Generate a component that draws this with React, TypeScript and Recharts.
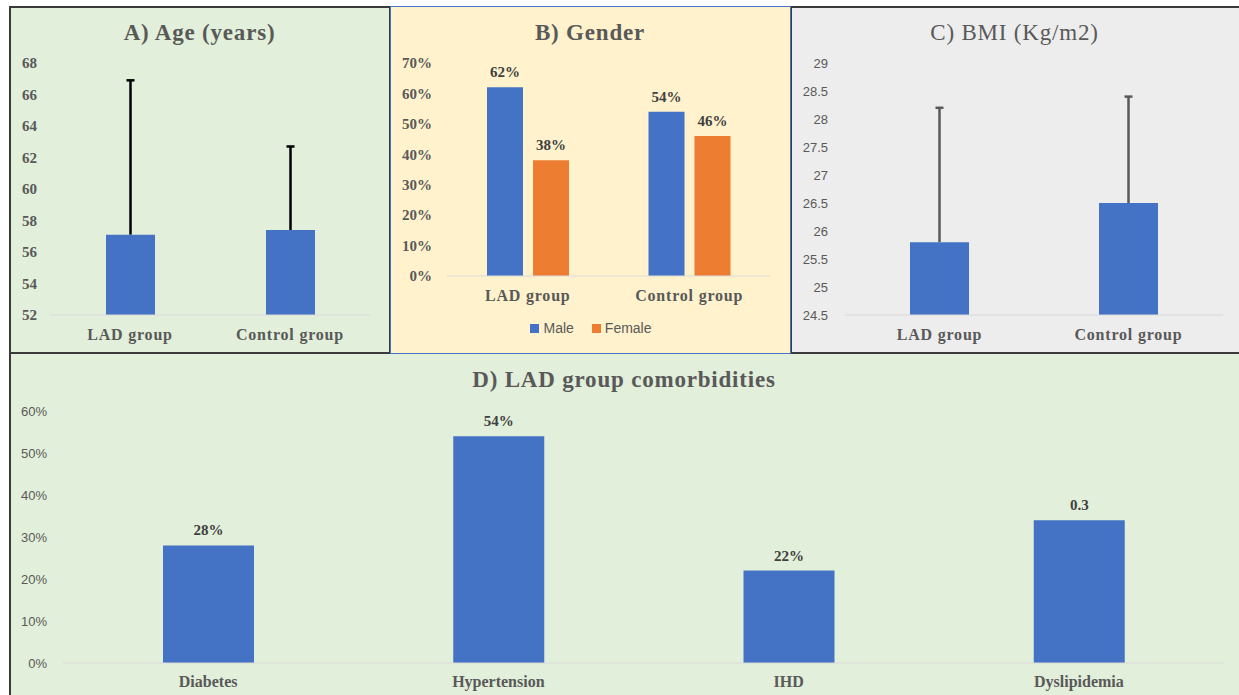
import React from 'react';
import { BarChart, Bar, XAxis, YAxis, LabelList, Legend } from 'recharts';

const SERIF = '"Liberation Serif", "Times New Roman", serif';
const SANS = '"Liberation Sans", Arial, sans-serif';
const BLUE = '#4472c4';
const ORANGE = '#ed7d31';
const GREY = '#595959';
const DARK = '#404040';
const BASE_LINE = '#d9d9d9';

// A) Age and C) BMI share the two groups
const groups = ['LAD group', 'Control group'];
const ageMean = [57.1, 57.4];
const ageSdPlus = [9.8, 5.3];
const ageTicks = [52, 54, 56, 58, 60, 62, 64, 66, 68];

// B) Gender
const genderSeries = ['Male', 'Female'];
const malePct = [0.62, 0.54];
const femalePct = [0.38, 0.46];
const genderTicks = [0, 0.1, 0.2, 0.3, 0.4, 0.5, 0.6, 0.7];

// C) BMI
const bmiMean = [25.8, 26.5];
const bmiSdPlus = [2.4, 1.9];
const bmiTicks = [24.5, 25, 25.5, 26, 26.5, 27, 27.5, 28, 28.5, 29];

// D) LAD group comorbidities
const comorbidities = ['Diabetes', 'Hypertension', 'IHD', 'Dyslipidemia'];
const comorbidityPct = [0.28, 0.54, 0.22, 0.34];
const comorbidityLabels = ['28%', '54%', '22%', '0.3'];
const comorbidityTicks = [0, 0.1, 0.2, 0.3, 0.4, 0.5, 0.6];

// plus-only error bars are drawn as range bars from mean to mean + sd
const ageData = groups.map((g, i) => ({ group: g, mean: ageMean[i], err: [ageMean[i], ageMean[i] + ageSdPlus[i]] }));
const bmiData = groups.map((g, i) => ({ group: g, mean: bmiMean[i], err: [bmiMean[i], bmiMean[i] + bmiSdPlus[i]] }));
const genderData = groups.map((g, i) => ({ group: g, Male: malePct[i], Female: femalePct[i] }));
const comorbidityData = comorbidities.map((c, i) => ({
  name: c,
  value: comorbidityPct[i],
  label: comorbidityLabels[i],
}));

const pct = (v: number) => `${Math.round(v * 100)}%`;

const CatTick = (props: any) => {
  const { x, y, payload, size, spacing } = props;
  return (
    <text
      x={x}
      y={y}
      dy="0.71em"
      textAnchor="middle"
      fill={GREY}
      fontFamily={SERIF}
      fontWeight={700}
      fontSize={size}
      style={{ letterSpacing: `${spacing}px` }}
    >
      {payload.value}
    </text>
  );
};

const whisker = (color: string) => (props: any) => {
  const { x, y, width, height } = props;
  const cx = x + width / 2;
  return (
    <g>
      <line x1={cx} x2={cx} y1={y} y2={y + height} stroke={color} strokeWidth={2.5} />
      <line x1={cx - 4} x2={cx + 4} y1={y} y2={y} stroke={color} strokeWidth={2.5} />
    </g>
  );
};

const labelStyle = { fill: DARK, fontFamily: SERIF, fontWeight: 700, fontSize: 15 };

const Panel = ({ style }: { style: React.CSSProperties }) => (
  <div style={{ position: 'absolute', boxSizing: 'border-box', ...style }} />
);

const Title = ({ text, left, width, top, bold }: any) => (
  <div
    style={{
      position: 'absolute',
      left,
      width,
      top,
      textAlign: 'center',
      fontFamily: SERIF,
      fontSize: 23,
      lineHeight: '23px',
      fontWeight: bold ? 700 : 400,
      color: GREY,
      letterSpacing: '0.8px',
      zIndex: 3,
    }}
  >
    {text}
  </div>
);

const GenderLegend = (props: any) => {
  // keep the series order (Male first), recharts sorts the payload by name
  const items = [...(props.payload || [])].sort(
    (a: any, b: any) => genderSeries.indexOf(a.value) - genderSeries.indexOf(b.value)
  );
  return (
    <div
      style={{
        display: 'flex',
        justifyContent: 'center',
        alignItems: 'center',
        height: 20,
        fontFamily: SANS,
        fontSize: 14,
        color: GREY,
      }}
    >
      {items.map((it: any, i: number) => (
        <span key={it.value} style={{ display: 'flex', alignItems: 'center', marginLeft: i ? 18 : 0 }}>
          <span style={{ width: 9, height: 9, background: it.color, marginRight: 4, display: 'inline-block' }} />
          {it.value}
        </span>
      ))}
    </div>
  );
};

export default function App() {
  return (
    <div
      style={{
        position: 'fixed',
        left: 0,
        top: 0,
        width: 1239,
        height: 695,
        overflow: 'hidden',
        background: '#ffffff',
      }}
    >
      <Panel style={{ left: 9, top: 6, width: 382, height: 348, background: '#e2efda', border: '2px solid #3a3a3a' }} />
      <Panel style={{ left: 790, top: 6, width: 449, height: 348, background: '#ededed', border: '2px solid #3a3a3a', borderRight: 'none' }} />
      <Panel style={{ left: 9, top: 352, width: 1230, height: 343, background: '#e2efda', border: '2px solid #3a3a3a', borderRight: 'none', borderBottom: 'none' }} />
      <Panel style={{ left: 390, top: 6, width: 401, height: 348, background: '#fff2cc', border: '1.5px solid #4472c4', zIndex: 1 }} />

      <Title text="A) Age (years)" left={9} width={381} top={21} bold />
      <Title text="B) Gender" left={390} width={400} top={21} bold />
      <Title text="C) BMI (Kg/m2)" left={790} width={449} top={21} />
      <Title text="D) LAD group comorbidities" left={9} width={1230} top={368} bold />

      {/* A) Age */}
      <div style={{ position: 'absolute', left: 10, top: 8, zIndex: 2 }}>
        <BarChart width={380} height={345} data={ageData} margin={{ top: 55, right: 20, bottom: 8, left: 0 }}>
          <XAxis
            dataKey="group"
            height={30}
            interval={0}
            tickSize={0}
            tickMargin={14}
            tickLine={false}
            axisLine={{ stroke: BASE_LINE }}
            tick={(p: any) => <CatTick {...p} size={16} spacing={0.8} />}
          />
          <XAxis xAxisId="err" dataKey="group" hide />
          <YAxis
            width={40}
            domain={[52, 68]}
            ticks={ageTicks}
            allowDataOverflow
            interval={0}
            axisLine={false}
            tickLine={false}
            tickSize={0}
            tickMargin={13}
            tick={{ fill: GREY, fontFamily: SERIF, fontWeight: 700, fontSize: 15 }}
          />
          <Bar xAxisId="err" dataKey="err" barSize={49} shape={whisker('#000000')} isAnimationActive={false} />
          <Bar dataKey="mean" fill={BLUE} barSize={49} isAnimationActive={false} />
        </BarChart>
      </div>

      {/* B) Gender */}
      <div style={{ position: 'absolute', left: 391, top: 8, zIndex: 2 }}>
        <BarChart
          width={399}
          height={344}
          data={genderData}
          barGap={10}
          margin={{ top: 55, right: 20, bottom: 14, left: 0 }}
        >
          <XAxis
            dataKey="group"
            height={42}
            interval={0}
            tickSize={0}
            tickMargin={14}
            tickLine={false}
            axisLine={{ stroke: BASE_LINE }}
            tick={(p: any) => <CatTick {...p} size={16} spacing={0.8} />}
          />
          <YAxis
            width={56}
            domain={[0, 0.7]}
            ticks={genderTicks}
            interval={0}
            axisLine={false}
            tickLine={false}
            tickSize={0}
            tickMargin={15}
            tickFormatter={pct}
            tick={{ fill: GREY, fontFamily: SERIF, fontWeight: 700, fontSize: 15 }}
          />
          <Legend
            verticalAlign="bottom"
            height={20}
            content={GenderLegend}
            wrapperStyle={{ left: 0, width: 400 }}
          />
          <Bar dataKey={genderSeries[0]} fill={BLUE} barSize={36} isAnimationActive={false}>
            <LabelList dataKey={genderSeries[0]} position="top" offset={10} formatter={pct} style={labelStyle} />
          </Bar>
          <Bar dataKey={genderSeries[1]} fill={ORANGE} barSize={36} isAnimationActive={false}>
            <LabelList dataKey={genderSeries[1]} position="top" offset={10} formatter={pct} style={labelStyle} />
          </Bar>
        </BarChart>
      </div>

      {/* C) BMI */}
      <div style={{ position: 'absolute', left: 791, top: 8, zIndex: 2 }}>
        <BarChart width={448} height={345} data={bmiData} margin={{ top: 55, right: 16, bottom: 8, left: 0 }}>
          <XAxis
            dataKey="group"
            height={30}
            interval={0}
            tickSize={0}
            tickMargin={14}
            tickLine={false}
            axisLine={{ stroke: BASE_LINE }}
            tick={(p: any) => <CatTick {...p} size={16} spacing={0.8} />}
          />
          <XAxis xAxisId="err" dataKey="group" hide />
          <YAxis
            width={54}
            domain={[24.5, 29]}
            ticks={bmiTicks}
            allowDataOverflow
            interval={0}
            axisLine={false}
            tickLine={false}
            tickSize={0}
            tickMargin={17}
            tick={{ fill: GREY, fontFamily: SANS, fontSize: 13 }}
          />
          <Bar xAxisId="err" dataKey="err" barSize={59} shape={whisker(GREY)} isAnimationActive={false} />
          <Bar dataKey="mean" fill={BLUE} barSize={59} isAnimationActive={false} />
        </BarChart>
      </div>

      {/* D) LAD group comorbidities */}
      <div style={{ position: 'absolute', left: 10, top: 354, zIndex: 2 }}>
        <BarChart width={1229} height={341} data={comorbidityData} margin={{ top: 57, right: 15, bottom: 0, left: 0 }}>
          <XAxis
            dataKey="name"
            height={32}
            interval={0}
            tickSize={0}
            tickMargin={13}
            tickLine={false}
            axisLine={{ stroke: BASE_LINE }}
            tick={(p: any) => <CatTick {...p} size={16} spacing={0} />}
          />
          <YAxis
            width={53}
            domain={[0, 0.6]}
            ticks={comorbidityTicks}
            interval={0}
            axisLine={false}
            tickLine={false}
            tickSize={0}
            tickMargin={16}
            tickFormatter={pct}
            tick={{ fill: GREY, fontFamily: SANS, fontSize: 13 }}
          />
          <Bar dataKey="value" fill={BLUE} barSize={91} isAnimationActive={false}>
            <LabelList dataKey="label" position="top" offset={10} style={labelStyle} />
          </Bar>
        </BarChart>
      </div>
    </div>
  );
}
